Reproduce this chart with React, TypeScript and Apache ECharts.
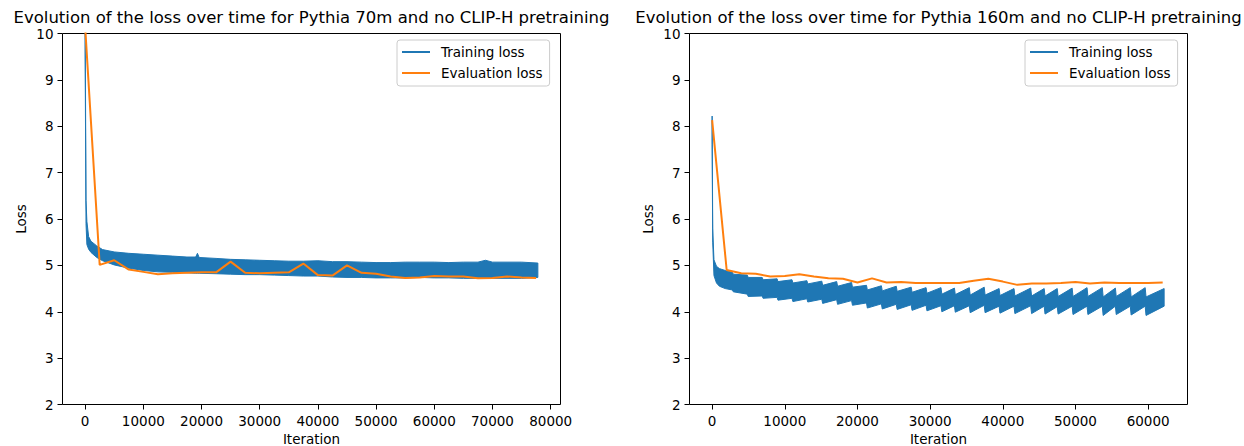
import React, { useEffect, useRef } from "react";
import * as echarts from "echarts";

const FONT = "DejaVu Sans";
const BLUE = "#1f77b4";
const ORANGE = "#ff7f0e";

const titles = [
  "Evolution of the loss over time for Pythia 70m and no CLIP-H pretraining",
  "Evolution of the loss over time for Pythia 160m and no CLIP-H pretraining",
];
const trainName = "Training loss";
const evalName = "Evaluation loss";
const xAxisName = "Iteration";
const yAxisName = "Loss";

const xTicks70 = [0, 10000, 20000, 30000, 40000, 50000, 60000, 70000, 80000];
const xTicks160 = [0, 10000, 20000, 30000, 40000, 50000, 60000];
const yTicks = [2, 3, 4, 5, 6, 7, 8, 9, 10];

// ---- Pythia 70m ----
const trainIter70 = [0, 150, 300, 600, 1000, 2000, 3000, 5000, 7500, 10000, 12500, 15000, 17500, 19000, 19300, 19600, 22500, 25000, 27500, 30000, 32500, 35000, 37500, 40000, 42500, 45000, 47500, 50000, 52500, 55000, 57500, 60000, 62500, 65000, 67500, 68800, 70000, 72500, 75000, 77800];
const trainUpper70 = [10.4, 6.4, 5.95, 5.62, 5.52, 5.42, 5.34, 5.29, 5.26, 5.24, 5.22, 5.2, 5.18, 5.18, 5.26, 5.17, 5.15, 5.13, 5.12, 5.11, 5.1, 5.09, 5.09, 5.1, 5.08, 5.08, 5.07, 5.06, 5.06, 5.07, 5.07, 5.07, 5.06, 5.07, 5.07, 5.11, 5.07, 5.07, 5.07, 5.05];
const trainLower70 = [9.6, 5.9, 5.45, 5.35, 5.28, 5.17, 5.1, 5.01, 4.94, 4.89, 4.86, 4.85, 4.84, 4.83, 4.83, 4.83, 4.82, 4.81, 4.8, 4.8, 4.79, 4.78, 4.77, 4.77, 4.75, 4.74, 4.74, 4.73, 4.73, 4.73, 4.74, 4.73, 4.73, 4.72, 4.72, 4.72, 4.72, 4.72, 4.72, 4.74];
const evalIter70 = [0, 2500, 5000, 7500, 10000, 12500, 15000, 17500, 20000, 22500, 25000, 27500, 30000, 32500, 35000, 37500, 40000, 42500, 45000, 47500, 50000, 52500, 55000, 57500, 60000, 62500, 65000, 67500, 70000, 72500, 75000, 77500];
const evalLoss70 = [10.15, 5.01, 5.11, 4.91, 4.86, 4.81, 4.83, 4.84, 4.85, 4.85, 5.08, 4.84, 4.83, 4.84, 4.85, 5.04, 4.79, 4.78, 5.0, 4.84, 4.82, 4.76, 4.73, 4.74, 4.77, 4.76, 4.76, 4.72, 4.73, 4.76, 4.74, 4.73];

// ---- Pythia 160m ----
const trainIter160 = [0, 80, 250, 600, 1000, 1800,
  2790, 2910, 4840, 4960, 6890, 7010, 8940, 9060, 10990, 11110, 13040, 13160, 15090, 15210, 17140, 17260, 19190, 19310,
  21240, 21360, 23290, 23410, 25340, 25460, 27390, 27510, 29440, 29560, 31490, 31610, 33340, 33460, 35390, 35510,
  37440, 37560, 39490, 39610, 41540, 41660, 43840, 43960, 45690, 45810, 47490, 47610, 49540, 49660, 51590, 51710,
  53690, 53810, 55490, 55610, 57540, 57660, 59590, 59710, 62200];
const trainUpper160 = [8.22, 5.8, 5.12, 4.98, 4.93, 4.89,
  4.85, 4.81, 4.79, 4.74, 4.74, 4.69, 4.71, 4.65, 4.69, 4.62, 4.67, 4.6, 4.66, 4.57, 4.65, 4.55, 4.63, 4.53,
  4.57, 4.47, 4.56, 4.45, 4.55, 4.44, 4.53, 4.42, 4.52, 4.4, 4.52, 4.38, 4.51, 4.37, 4.52, 4.36,
  4.53, 4.36, 4.5, 4.35, 4.5, 4.34, 4.51, 4.34, 4.5, 4.34, 4.5, 4.33, 4.51, 4.33, 4.52, 4.33,
  4.52, 4.32, 4.51, 4.33, 4.52, 4.32, 4.52, 4.32, 4.5];
const trainLower160 = [7.6, 5.5, 4.78, 4.62, 4.55, 4.5,
  4.47, 4.43, 4.38, 4.33, 4.34, 4.29, 4.31, 4.25, 4.29, 4.22, 4.28, 4.21, 4.27, 4.18, 4.26, 4.16, 4.24, 4.14,
  4.19, 4.08, 4.17, 4.06, 4.16, 4.05, 4.15, 4.03, 4.14, 4.02, 4.13, 4.0, 4.13, 3.99, 4.13, 3.98,
  4.14, 3.98, 4.12, 3.97, 4.12, 3.96, 4.13, 3.96, 4.12, 3.95, 4.11, 3.95, 4.12, 3.94, 4.12, 3.94,
  4.12, 3.92, 4.12, 3.94, 4.12, 3.93, 4.12, 3.92, 4.12];
const evalIter160 = [0, 2000, 4000, 6000, 8000, 10000, 12000, 14000, 16000, 18000, 20000, 22000, 24000, 26000, 28000, 30000, 32000, 34000, 36000, 38000, 40000, 42000, 44000, 46000, 48000, 50000, 52000, 54000, 56000, 58000, 60000, 62000];
const evalLoss160 = [8.13, 4.9, 4.83, 4.82, 4.76, 4.77, 4.81, 4.76, 4.72, 4.71, 4.63, 4.72, 4.63, 4.64, 4.62, 4.62, 4.62, 4.62, 4.67, 4.71, 4.65, 4.58, 4.61, 4.61, 4.62, 4.64, 4.61, 4.63, 4.62, 4.62, 4.62, 4.63];

const gridBoxes = [
  { left: 62.5, top: 33.5, width: 498, height: 371 },
  { left: 689.5, top: 33.5, width: 498, height: 371 },
];
const xRanges = [
  { min: -3890, max: 81690 },
  { min: -3115, max: 65415 },
];

const labelStyle = { fontSize: 13.5, color: "#000", fontFamily: FONT };

function makeBand(iters: number[], upper: number[], lower: number[]) {
  return (params: any, api: any) => {
    if (params.dataIndex !== 0) return null;
    const pts: number[][] = [];
    for (let i = 0; i < iters.length; i++) pts.push(api.coord([iters[i], upper[i]]));
    for (let i = iters.length - 1; i >= 0; i--) pts.push(api.coord([iters[i], lower[i]]));
    return {
      type: "polygon",
      shape: { points: pts },
      style: { fill: BLUE, stroke: BLUE, lineWidth: 1, lineJoin: "round" },
    };
  };
}

function makeX(gridIndex: number, ticks: number[]) {
  return {
    type: "value",
    gridIndex,
    min: xRanges[gridIndex].min,
    max: xRanges[gridIndex].max,
    splitNumber: 8,
    name: xAxisName,
    nameLocation: "middle",
    nameGap: 27,
    nameTextStyle: { ...labelStyle },
    axisLine: { show: false, onZero: false },
    axisTick: { show: true, length: 5, lineStyle: { color: "#000", width: 1 }, customValues: ticks },
    axisLabel: { ...labelStyle, margin: 9, customValues: ticks, formatter: (v: number) => String(v) },
    splitLine: { show: false },
  };
}

function makeY(gridIndex: number) {
  return {
    type: "value",
    gridIndex,
    min: 2,
    max: 10,
    interval: 1,
    name: yAxisName,
    nameLocation: "middle",
    nameGap: 35,
    nameTextStyle: { ...labelStyle },
    axisLine: { show: false, onZero: false },
    axisTick: { show: true, length: 5, lineStyle: { color: "#000", width: 1 }, customValues: yTicks },
    axisLabel: { ...labelStyle, margin: 9, customValues: yTicks, formatter: (v: number) => String(v) },
    splitLine: { show: false },
  };
}

function makeLegend(left: number) {
  return {
    orient: "vertical",
    left,
    top: 40,
    padding: [5, 7, 6, 5],
    itemGap: 7,
    itemWidth: 28,
    itemHeight: 2,
    borderColor: "#cccccc",
    borderWidth: 1,
    borderRadius: 3,
    backgroundColor: "rgba(255,255,255,0.8)",
    selectedMode: false,
    textStyle: { ...labelStyle, padding: [0, 0, 0, 6] },
    data: [
      { name: trainName, icon: "rect" },
      { name: evalName, icon: "rect" },
    ],
  };
}

const option: any = {
  animation: false,
  backgroundColor: "#fff",
  textStyle: { fontFamily: FONT },
  title: titles.map((t, i) => ({
    text: t,
    left: gridBoxes[i].left + gridBoxes[i].width / 2,
    top: 9,
    textAlign: "center",
    padding: 0,
    textStyle: { fontSize: 16.5, lineHeight: 16, fontWeight: "normal", color: "#000", fontFamily: FONT },
  })),
  legend: [makeLegend(397), makeLegend(1025)],
  grid: gridBoxes.map((g) => ({
    ...g,
    show: true,
    borderColor: "#000",
    borderWidth: 1,
    backgroundColor: "transparent",
    containLabel: false,
    outerBoundsMode: "none",
  })),
  xAxis: [makeX(0, xTicks70), makeX(1, xTicks160)],
  yAxis: [makeY(0), makeY(1)],
  series: [
    {
      type: "custom",
      name: trainName,
      xAxisIndex: 0,
      yAxisIndex: 0,
      clip: true,
      silent: true,
      itemStyle: { color: BLUE },
      encode: { x: 0, y: [1, 2] },
      data: trainIter70.map((t, i) => [t, trainUpper70[i], trainLower70[i]]),
      renderItem: makeBand(trainIter70, trainUpper70, trainLower70),
    },
    {
      type: "line",
      name: evalName,
      xAxisIndex: 0,
      yAxisIndex: 0,
      silent: true,
      showSymbol: false,
      symbol: "none",
      lineStyle: { color: ORANGE, width: 2 },
      itemStyle: { color: ORANGE },
      data: evalIter70.map((t, i) => [t, evalLoss70[i]]),
    },
    {
      type: "custom",
      name: trainName,
      xAxisIndex: 1,
      yAxisIndex: 1,
      clip: true,
      silent: true,
      itemStyle: { color: BLUE },
      encode: { x: 0, y: [1, 2] },
      data: trainIter160.map((t, i) => [t, trainUpper160[i], trainLower160[i]]),
      renderItem: makeBand(trainIter160, trainUpper160, trainLower160),
    },
    {
      type: "line",
      name: evalName,
      xAxisIndex: 1,
      yAxisIndex: 1,
      silent: true,
      showSymbol: false,
      symbol: "none",
      lineStyle: { color: ORANGE, width: 2 },
      itemStyle: { color: ORANGE },
      data: evalIter160.map((t, i) => [t, evalLoss160[i]]),
    },
  ],
};

export default function App() {
  const ref = useRef<HTMLDivElement>(null);
  useEffect(() => {
    if (!ref.current) return;
    const chart = echarts.init(ref.current, null, { renderer: "svg" });
    chart.setOption(option);
    return () => chart.dispose();
  }, []);
  return (
    <div
      ref={ref}
      style={{ position: "absolute", left: 0, top: 0, width: 1244, height: 446, background: "#fff" }}
    />
  );
}
